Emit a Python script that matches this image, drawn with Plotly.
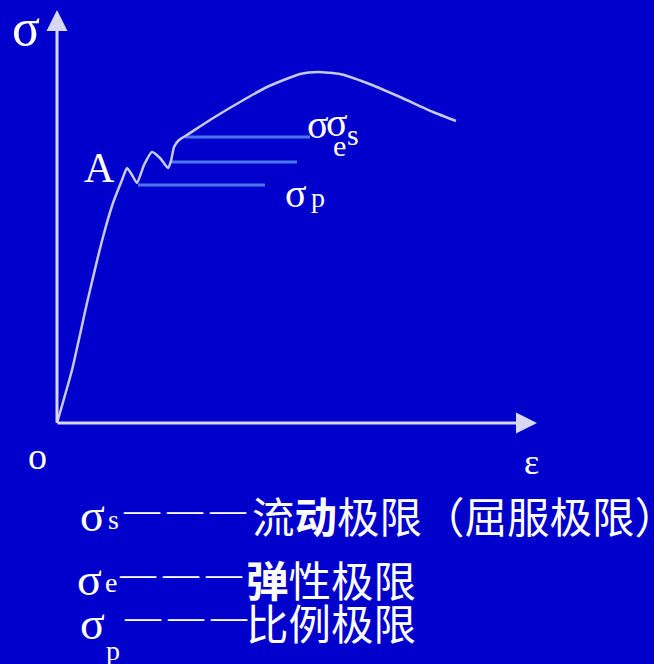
import plotly.graph_objects as go

# ---- data (strain / stress in chart units, origin at 0,0) ----
strain = [0, 15, 30, 46, 56, 65, 70, 75, 80, 87, 95, 103, 111, 114, 117, 122, 130, 153, 183, 210, 243, 261, 283, 310, 343, 376, 399]
stress = [0, 53, 120, 186, 220, 243, 255, 248, 240, 258, 271, 265, 255, 262, 276, 283, 288, 303, 321, 336, 349, 351, 349, 340, 326, 311, 302]

limit_names = ["σs", "σe", "σp"]
limit_values = [286, 261, 238]
limit_start = [128, 115, 81]
limit_end = [253, 240, 208]

x_axis_end = 480
y_axis_end = 413

W, H = 654, 664
OX, OY = 57, 423  # pixel position of origin
BG = "#0000CC"
AXIS_C = "#D8D8F6"
CURVE_C = "#C8C8E8"
LIMIT_C = "#4A78F0"
SERIF = "Liberation Serif, Times New Roman, serif"
CJK = "Noto Sans CJK SC, sans-serif"

fig = go.Figure()

# yield-region limit lines
for v, a, b in zip(limit_values, limit_start, limit_end):
    fig.add_trace(go.Scatter(x=[a, b], y=[v, v], mode="lines",
                             line=dict(color=LIMIT_C, width=3), hoverinfo="skip"))

# stress-strain curve
fig.add_trace(go.Scatter(x=strain, y=stress, mode="lines",
                         line=dict(color=CURVE_C, width=2.5, shape="spline", smoothing=0.5),
                         hoverinfo="skip"))

def px(x, y):
    return dict(x=x / W, y=1 - y / H, xref="paper", yref="paper")

ann = []
# axes as arrows
ann.append(dict(x=x_axis_end, y=0, ax=-1, ay=0, xref="x", yref="y", axref="x", ayref="y",
                showarrow=True, arrowhead=2, arrowsize=1.4, arrowwidth=3, arrowcolor=AXIS_C, text=""))
ann.append(dict(x=0, y=y_axis_end, ax=0, ay=-1, xref="x", yref="y", axref="x", ayref="y",
                showarrow=True, arrowhead=2, arrowsize=1.4, arrowwidth=3, arrowcolor=AXIS_C, text=""))

def label(text, x, y, size, font=SERIF, xanchor="center", yanchor="middle"):
    d = px(x, y)
    d.update(text=text, showarrow=False, xanchor=xanchor, yanchor=yanchor,
             font=dict(family=font, size=size, color="white"))
    ann.append(d)

def dashes(x0, y, size=36, gap=7):
    for i in range(3):
        label("—", x0 + i * (size + gap), y, size, xanchor="left")

label("σ", 26, 28, 52)
label("A", 99, 168, 42)
label("o", 37, 456, 38)
label("ε", 531, 462, 36)

# labels at the limit lines
label("σ", 318, 124, 40)
label("σ", 337, 123, 40)
label("e", 339, 146, 30)
label("s", 353, 134, 30)
label("σ", 296, 193, 40)
label("p", 318, 197, 28)

# legend-like text at the bottom
label("σ", 92, 515, 46)
label("s", 113, 519, 28)
dashes(121, 510)
label("流<b>动</b>极限（屈服极限）", 250, 514, 42.5, font=CJK, xanchor="left")

label("σ", 89, 579, 46)
label("e", 111, 582, 28)
dashes(117, 574)
label("<b>弹</b>性极限", 244, 578, 42.5, font=CJK, xanchor="left")

label("σ", 92, 623, 46)
label("p", 113, 650, 28)
dashes(122, 617)
label("比例极限", 244, 621, 42.5, font=CJK, xanchor="left")

fig.update_layout(
    width=W, height=H, autosize=False,
    margin=dict(l=0, r=0, t=0, b=0),
    paper_bgcolor=BG, plot_bgcolor=BG,
    showlegend=False,
    annotations=ann,
    xaxis=dict(range=[-OX, W - OX], visible=False, fixedrange=True),
    yaxis=dict(range=[OY - H, OY], visible=False, fixedrange=True),
)

fig.write_html("out.html", config=dict(displayModeBar=False),
               post_script="document.body.style.margin='0';document.body.style.background='%s';" % BG)
